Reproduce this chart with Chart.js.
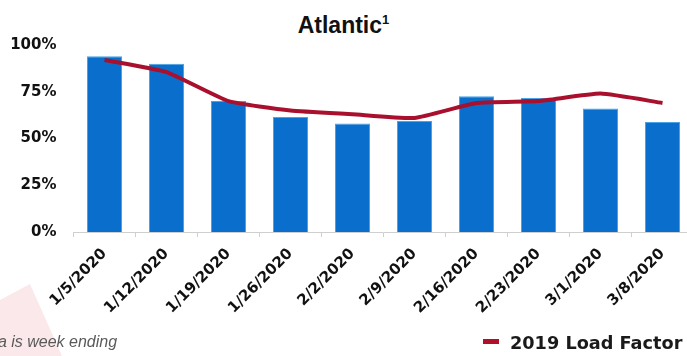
<!DOCTYPE html>
<html>
<head>
<meta charset="utf-8">
<script src="https://cdn.jsdelivr.net/npm/chart.js@4"></script>
<style>
  html, body { margin: 0; padding: 0; background: #fff; overflow: hidden; width: 687px; height: 356px; }
  #wrap { position: relative; width: 687px; height: 356px; overflow: hidden; }
  #deco { position: absolute; left: 0; top: 0; width: 80px; height: 356px;
          background: #fae8ea; clip-path: polygon(0 300px, 30px 284px, 62px 356px, 0 356px); }
  #chartBox { position: absolute; left: 0; top: 0; width: 700px; height: 356px; }
  #title { position: absolute; left: 0; width: 687px; top: 12px; text-align: center;
           font: bold 23px "Liberation Sans", Arial, sans-serif; color: #111; }
  #title sup { font-size: 13px; vertical-align: 9px; line-height: 0; }
  #note { position: absolute; left: -27px; top: 333px; font: italic 16px "Liberation Sans", Arial, sans-serif; color: #5a5a5a; white-space: nowrap; }
  #legend { position: absolute; left: 483px; top: 333px; white-space: nowrap;
            font: bold 17.7px "DejaVu Sans", sans-serif; color: #1a1a1a; }
  #legend .mark { display: inline-block; width: 16px; height: 5px; background: #b0102c; vertical-align: 5px; margin-right: 11px; }
</style>
</head>
<body>
<div id="wrap">
  <div id="deco"></div>
  <div id="title">Atlantic<sup>1</sup></div>
  <div id="chartBox"><canvas id="loadChart" width="700" height="356"></canvas></div>
  <div id="note">Data is week ending</div>
  <div id="legend"><span class="mark"></span>2019 Load Factor</div>
</div>
<script>
const weeks = ['1/5/2020', '1/12/2020', '1/19/2020', '1/26/2020', '2/2/2020', '2/9/2020', '2/16/2020', '2/23/2020', '3/1/2020', '3/8/2020'];
const loadFactor2020 = [94, 90, 70, 61.5, 58, 59.3, 72.6, 71.7, 66, 58.8];
const loadFactor2019 = [92, 85.5, 70, 65, 63, 61, 69, 70, 74, 69];
const yTicks = [0, 25, 50, 75, 100];

const ctx = document.getElementById('loadChart').getContext('2d');

new Chart(ctx, {
    type: 'bar',
    data: {
        labels: weeks,
        datasets: [
            {
                type: 'line',
                label: '2019 Load Factor',
                data: loadFactor2019,
                borderColor: '#a8102d',
                borderWidth: 4,
                pointRadius: 0,
                tension: 0.15,
                fill: false,
                order: 0
            },
            {
                type: 'bar',
                label: '2020 Load Factor',
                data: loadFactor2020,
                backgroundColor: '#0a6fcc',
                borderColor: '#4aa3e6',
                borderWidth: 1,
                barPercentage: 0.565,
                categoryPercentage: 1,
                order: 1
            }
        ]
    },
    options: {
        responsive: false,
        animation: false,
        devicePixelRatio: 1,
        layout: {
            padding: { top: 45, right: 6.5, bottom: 0, left: 0 }
        },
        plugins: {
            legend: { display: false },
            tooltip: { enabled: false }
        },
        scales: {
            x: {
                offset: true,
                grid: {
                    display: true,
                    drawOnChartArea: false,
                    drawTicks: true,
                    tickLength: 5,
                    offset: true,
                    color: '#cfcfcf'
                },
                border: { display: true, color: '#cfcfcf', width: 1 },
                ticks: {
                    autoSkip: false,
                    maxRotation: 45,
                    minRotation: 45,
                    color: '#111',
                    font: { family: 'DejaVu Sans', weight: 'bold', size: 15 },
                    padding: 8
                },
                afterFit: function(scale) { scale.height = 124; }
            },
            y: {
                min: 0,
                max: 100,
                afterBuildTicks: function(scale) {
                    scale.ticks = yTicks.map(v => ({ value: v }));
                },
                grid: { display: false },
                border: { display: false },
                ticks: {
                    color: '#111',
                    padding: 9,
                    font: { family: 'DejaVu Sans', weight: 'bold', size: 15 },
                    callback: v => v + '%'
                },
                afterFit: function(scale) { scale.width = 73.5; }
            }
        }
    }
});
</script>
</body>
</html>
